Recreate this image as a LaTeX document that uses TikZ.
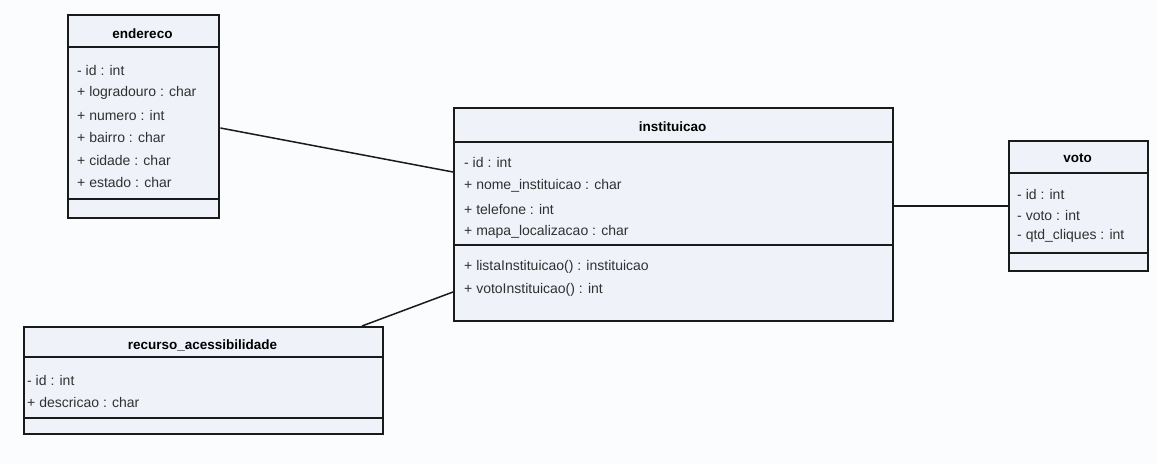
\documentclass[tikz,border=0pt]{standalone}
\usepackage{fontspec}
\setmainfont{Liberation Sans}
\definecolor{bgc}{HTML}{FAFCFE}
\definecolor{boxc}{HTML}{EFF3F9}
\definecolor{txtc}{HTML}{303030}
\definecolor{linec}{HTML}{1A1A1A}
\begin{document}
\begin{tikzpicture}[x=1pt,y=1pt,
  cls/.style={draw=linec, line width=2.4pt, fill=boxc, rectangle, inner sep=0pt, anchor=north west},
  ttl/.style={inner sep=0pt, font=\fontsize{13.5}{15}\selectfont\bfseries, text=black},
  attr/.style={inner sep=0pt, anchor=west, font=\fontsize{14}{16}\selectfont, text=txtc},
  sep/.style={draw=linec, line width=1.3pt},
  conn/.style={draw=linec, line width=1.5pt}]
\useasboundingbox[fill=bgc] (0,0) rectangle (1157,-464);

% endereco
\node[cls, minimum width=151pt, minimum height=203pt] (endereco) at (67,-14) {};
\node[ttl] (endT) at (142.5,-33.5) {endereco};
\draw[sep] (67,-47) -- (218,-47);
\draw[sep] (67,-199) -- (218,-199);
\node[attr] (e1) at (77,-70) {- id : int};
\node[attr] (e2) at (77,-92.5) {+ logradouro : char};
\node[attr] (e3) at (77,-115) {+ numero : int};
\node[attr] (e4) at (77,-137.5) {+ bairro : char};
\node[attr] (e5) at (77,-160) {+ cidade : char};
\node[attr] (e6) at (77,-182.5) {+ estado : char};

% instituicao
\node[cls, minimum width=439pt, minimum height=213pt] (inst) at (453,-107) {};
\node[ttl] (instT) at (672.5,-127) {instituicao};
\draw[sep] (453,-142) -- (892,-142);
\draw[sep] (453,-245) -- (892,-245);
\node[attr] (i1) at (464,-162) {- id : int};
\node[attr] (i2) at (464,-185.5) {+ nome\_instituicao : char};
\node[attr] (i3) at (464,-209) {+ telefone : int};
\node[attr] (i4) at (464,-232) {+ mapa\_localizacao : char};
\node[attr] (i5) at (464,-267) {+ listaInstituicao() : instituicao};
\node[attr] (i6) at (464,-290) {+ votoInstituicao() : int};

% voto
\node[cls, minimum width=139pt, minimum height=130pt] (voto) at (1008,-140) {};
\node[ttl] (votoT) at (1077.5,-158.5) {voto};
\draw[sep] (1008,-173) -- (1147,-173);
\draw[sep] (1008,-253) -- (1147,-253);
\node[attr] (v1) at (1017,-194) {- id : int};
\node[attr] (v2) at (1017,-215) {- voto : int};
\node[attr] (v3) at (1017,-236) {- qtd\_cliques : int};

% recurso_acessibilidade
\node[cls, minimum width=359pt, minimum height=107pt] (rec) at (23,-326) {};
\node[ttl] (recT) at (202.5,-345) {recurso\_acessibilidade};
\draw[sep] (23,-357) -- (382,-357);
\draw[sep] (23,-418) -- (382,-418);
\node[attr] (r1) at (27,-380) {- id : int};
\node[attr] (r2) at (27,-402) {+ descricao : char};

% connectors
\draw[conn] ([yshift=-114pt]endereco.north east) -- ([yshift=-65pt]inst.north west);
\draw[conn] ([yshift=-99pt]inst.north east) -- ([yshift=-66pt]voto.north west);
\draw[conn] ([xshift=339pt]rec.north west) -- ([yshift=-185pt]inst.north west);
\end{tikzpicture}
\end{document}
